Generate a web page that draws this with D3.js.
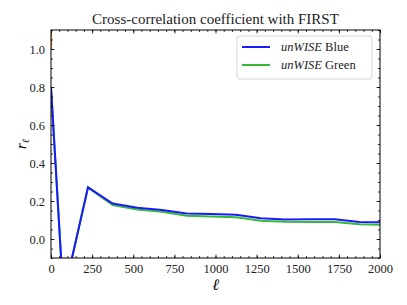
<!DOCTYPE html>
<html>
<head>
<meta charset="utf-8">
<script src="https://cdn.jsdelivr.net/npm/d3@7"></script>
<style>
body { margin: 0; background: #fff; }
text { font-family: "Liberation Serif", "DejaVu Serif", serif; }
</style>
</head>
<body>
<div id="chart"></div>
<script>
var ells = [0, 75, 225, 375, 525, 675, 825, 975, 1125, 1275, 1425, 1575, 1725, 1875, 2025]
var blue = [0.8, -0.30, 0.272, 0.187, 0.165, 0.153, 0.134, 0.132, 0.128, 0.109, 0.103, 0.104, 0.104, 0.090, 0.088]
var green = [0.8, -0.30, 0.272, 0.178, 0.155, 0.143, 0.122, 0.119, 0.114, 0.096, 0.091, 0.090, 0.090, 0.078, 0.074]
var orangeElls = [0, 75]
var orange = [1.0, 40]
var xTicks = [0, 250, 500, 750, 1000, 1250, 1500, 1750, 2000]
var yTicks = [0.0, 0.2, 0.4, 0.6, 0.8, 1.0]

var width = 407, height = 305
var margin = {left: 51, right: 27, top: 30, bottom: 47}

var svg = d3.select("#chart").append("svg")
    .attr("width", width)
    .attr("height", height)

var x = d3.scaleLinear().domain([0, 2000]).range([margin.left, width - margin.right])
var y = d3.scaleLinear().domain([-0.1, 1.1]).range([height - margin.bottom, margin.top])

svg.append("clipPath").attr("id", "clip")
    .append("rect")
    .attr("x", x(0)).attr("y", y(1.1))
    .attr("width", x(2000) - x(0)).attr("height", y(-0.1) - y(1.1))

var line = d3.line()
    .x(function(d) { return x(d[0]) })
    .y(function(d) { return y(d[1]) })

var plot = svg.append("g").attr("clip-path", "url(#clip)")

plot.append("path")
    .datum(d3.zip(orangeElls, orange))
    .attr("d", line)
    .attr("fill", "none")
    .attr("stroke", "#ff7f0e")
    .attr("stroke-width", 2)

plot.append("path")
    .datum(d3.zip(ells, green))
    .attr("d", line)
    .attr("fill", "none")
    .attr("stroke", "#33bb33")
    .attr("stroke-width", 2)

plot.append("path")
    .datum(d3.zip(ells, blue))
    .attr("d", line)
    .attr("fill", "none")
    .attr("stroke", "#1a1aff")
    .attr("stroke-width", 2)

// axes, ticks pointing inward on all four sides
var xMinor = d3.range(0, 2001, 50)
var yMinor = d3.range(-0.1, 1.1001, 0.05)

function ax(axis, tr) {
    var g = svg.append("g").attr("transform", tr).call(axis)
    g.select(".domain").remove()
    g.selectAll("line").attr("stroke", "#000").attr("stroke-width", 0.8)
    return g
}

var bottom = ax(d3.axisBottom(x).tickValues(xTicks).tickSize(-3.5).tickPadding(6).tickFormat(d3.format("d")),
    "translate(0," + y(-0.1) + ")")
bottom.selectAll("text").attr("font-size", 12.5).attr("fill", "#222").attr("font-family", "Liberation Serif")
ax(d3.axisBottom(x).tickValues(xMinor).tickSize(-2).tickFormat(""), "translate(0," + y(-0.1) + ")")
ax(d3.axisTop(x).tickValues(xTicks).tickSize(-3.5).tickFormat(""), "translate(0," + y(1.1) + ")")
ax(d3.axisTop(x).tickValues(xMinor).tickSize(-2).tickFormat(""), "translate(0," + y(1.1) + ")")

var left = ax(d3.axisLeft(y).tickValues(yTicks).tickSize(-3.5).tickPadding(6).tickFormat(d3.format(".1f")),
    "translate(" + x(0) + ",0)")
left.selectAll("text").attr("font-size", 12.5).attr("fill", "#222").attr("font-family", "Liberation Serif")
ax(d3.axisLeft(y).tickValues(yMinor).tickSize(-2).tickFormat(""), "translate(" + x(0) + ",0)")
ax(d3.axisRight(y).tickValues(yTicks).tickSize(-3.5).tickFormat(""), "translate(" + x(2000) + ",0)")
ax(d3.axisRight(y).tickValues(yMinor).tickSize(-2).tickFormat(""), "translate(" + x(2000) + ",0)")

svg.append("rect")
    .attr("x", x(0)).attr("y", y(1.1))
    .attr("width", x(2000) - x(0)).attr("height", y(-0.1) - y(1.1))
    .attr("fill", "none").attr("stroke", "#000").attr("stroke-width", 1)

// title and labels
svg.append("text")
    .attr("x", (x(0) + x(2000)) / 2).attr("y", 24)
    .attr("text-anchor", "middle")
    .attr("font-size", 15)
    .attr("fill", "#222")
    .text("Cross-correlation coefficient with FIRST")

svg.append("text")
    .attr("x", (x(0) + x(2000)) / 2).attr("y", 290)
    .attr("text-anchor", "middle")
    .attr("font-size", 16)
    .attr("font-style", "italic")
    .text("ℓ")

var yl = svg.append("text")
    .attr("transform", "translate(26," + ((y(-0.1) + y(1.1)) / 2) + ") rotate(-90)")
    .attr("text-anchor", "middle")
    .attr("font-size", 15)
    .attr("font-style", "italic")
yl.append("tspan").text("r")
yl.append("tspan").attr("font-size", 10).attr("dy", 3).text("ℓ")

// legend
var leg = svg.append("g")
leg.append("rect")
    .attr("x", 237).attr("y", 36).attr("width", 135).attr("height", 43).attr("rx", 3)
    .attr("fill", "#fff").attr("fill-opacity", 0.8)
    .attr("stroke", "#d5d5d5").attr("stroke-width", 1)

var items = [["Blue", "#1a1aff"], ["Green", "#33bb33"]]
items.forEach(function(it, i) {
    var yy = 47 + i * 18
    leg.append("line")
        .attr("x1", 242).attr("x2", 270).attr("y1", yy).attr("y2", yy)
        .attr("stroke", it[1]).attr("stroke-width", 2)
    var t = leg.append("text").attr("x", 281).attr("y", yy + 4).attr("font-size", 12.5).attr("fill", "#222")
    t.append("tspan").attr("font-style", "italic").text("unWISE")
    t.append("tspan").text(" " + it[0])
})
</script>
</body>
</html>
